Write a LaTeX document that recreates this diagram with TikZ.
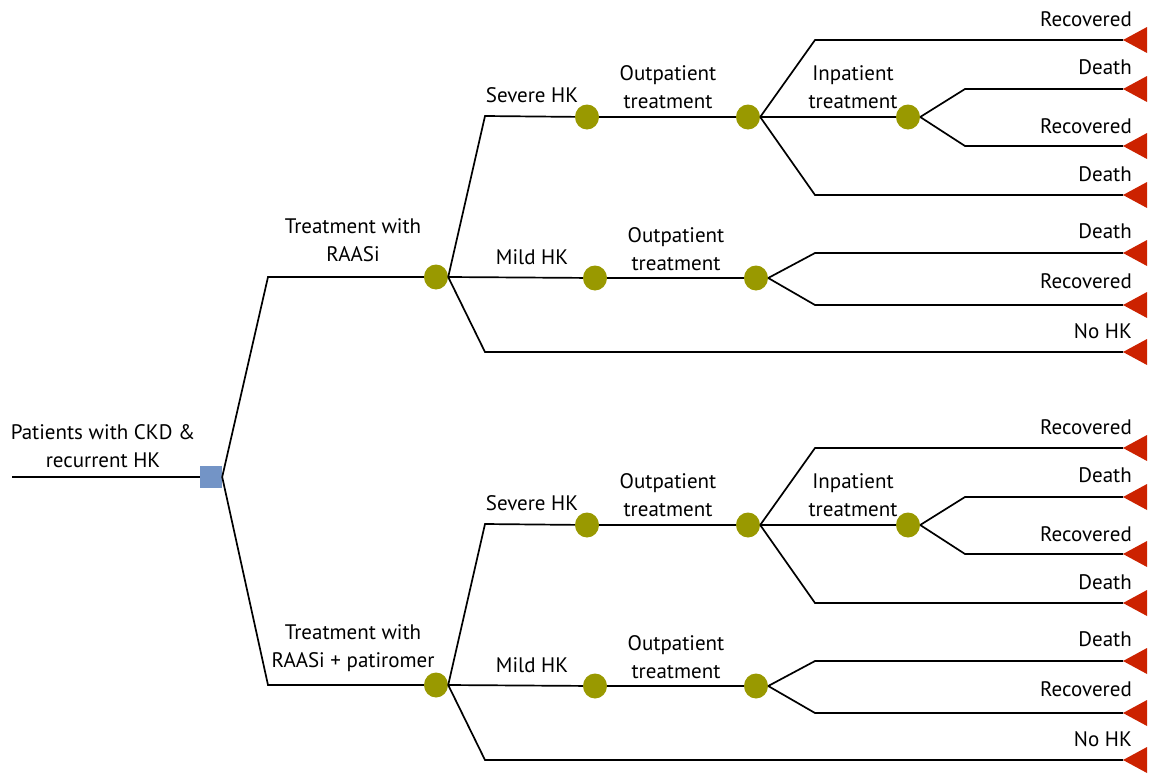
\documentclass[tikz,border=0pt]{standalone}
\usepackage{fontspec}
\setmainfont{PT Sans}
\usetikzlibrary{positioning, calc, shapes.geometric}

\definecolor{chancegreen}{HTML}{999900}
\definecolor{decblue}{HTML}{7394C6}
\definecolor{termred}{HTML}{CC2200}

\begin{document}
\begin{tikzpicture}[x=1pt, y=-1pt,
    branch/.style={line width=1.7pt},
    chance/.style={ellipse, fill=chancegreen, minimum width=24pt, minimum height=25pt, inner sep=0pt},
    decision/.style={rectangle, fill=decblue, minimum size=22pt, inner sep=0pt},
    lab/.style={font=\fontsize{21}{28}\selectfont, align=center, inner sep=0pt},
    outlab/.style={lab, anchor=east}]
    \useasboundingbox (0,0) rectangle (1150,774);

    % Decision node
    \coordinate (start) at (12,477);
    \node[decision] (root) at (211,477) {};
    \draw[branch] (start) -- (root);
    \node[lab] at (103,446) {Patients with CKD \&\\recurrent HK};

    % Two arms, same subtree
    \foreach \h/\dy/\arm in {u/0/{Treatment with\\RAASi}, l/408/{Treatment with\\RAASi + patiromer}} {
      \begin{scope}[shift={(0,\dy)}]
        \coordinate (arm\h) at (268,277);
        \node[chance] (tx\h) at (436,277) {};
        \draw[branch] (root.east) -- (arm\h) -- (tx\h);
        \node[lab] at (353,240) {\arm};

        % Severe / mild / no HK
        \coordinate (sevk\h) at (485,116);
        \coordinate (nohk\h) at (485,352);
        \coordinate (e7\h) at (1123,352);
        \node[chance] (sev\h) at (587,117) {};
        \node[chance] (mild\h) at (595,278) {};
        \draw[branch] (tx\h.east) -- (sevk\h) -- (sev\h);
        \draw[branch] (tx\h.east) -- (mild\h);
        \draw[branch] (tx\h.east) -- (nohk\h) -- (e7\h);
        \node[lab] at (532,95) {Severe HK};
        \node[lab] at (532,257) {Mild HK};
        \node[outlab] at (1132,331) {No HK};

        % Severe HK: outpatient, then inpatient
        \node[chance] (op\h) at (748,117) {};
        \node[chance] (ip\h) at (908,117) {};
        \draw[branch] (sev\h) -- (op\h);
        \node[lab] at (668,87) {Outpatient\\treatment};
        \coordinate (k1\h) at (815,40);
        \coordinate (k2\h) at (815,195);
        \coordinate (k3\h) at (965,89);
        \coordinate (k4\h) at (965,146);
        \coordinate (e1\h) at (1123,40);
        \coordinate (e2\h) at (1123,89);
        \coordinate (e3\h) at (1123,146);
        \coordinate (e4\h) at (1123,195);
        \draw[branch] (op\h.east) -- (k1\h) -- (e1\h);
        \draw[branch] (op\h.east) -- (ip\h);
        \draw[branch] (op\h.east) -- (k2\h) -- (e4\h);
        \draw[branch] (ip\h.east) -- (k3\h) -- (e2\h);
        \draw[branch] (ip\h.east) -- (k4\h) -- (e3\h);
        \node[lab] at (853,87) {Inpatient\\treatment};
        \node[outlab] at (1132,19) {Recovered};
        \node[outlab] at (1132,67) {Death};
        \node[outlab] at (1132,126) {Recovered};
        \node[outlab] at (1132,174) {Death};

        % Mild HK: outpatient only
        \node[chance] (mop\h) at (756,278) {};
        \draw[branch] (mild\h) -- (mop\h);
        \node[lab] at (676,249) {Outpatient\\treatment};
        \coordinate (k5\h) at (815,253);
        \coordinate (k6\h) at (815,305);
        \coordinate (e5\h) at (1123,253);
        \coordinate (e6\h) at (1123,305);
        \draw[branch] (mop\h.east) -- (k5\h) -- (e5\h);
        \draw[branch] (mop\h.east) -- (k6\h) -- (e6\h);
        \node[outlab] at (1132,231) {Death};
        \node[outlab] at (1132,281) {Recovered};

        % Terminal nodes
        \foreach \e in {1,...,7}
          \fill[termred] (e\e\h) -- ++(24,-13) -- ++(0,26) -- cycle;
      \end{scope}
    }
\end{tikzpicture}
\end{document}
